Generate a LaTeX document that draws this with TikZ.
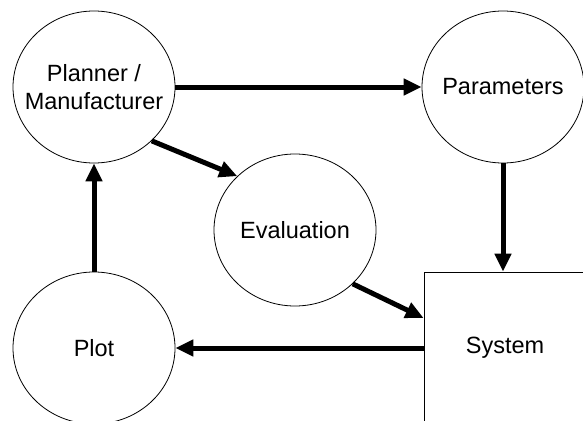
\documentclass[tikz,border=0pt]{standalone}
\usepackage{fontspec}
\setmainfont{Liberation Sans}
\usetikzlibrary{shapes.geometric,arrows.meta}
\tikzset{
  txt/.style={font=\fontsize{23.5}{28}\selectfont, align=center},
  bubble/.style={ellipse, draw, line width=0.8pt, minimum width=162pt, minimum height=152pt, inner sep=0pt, label={[txt]center:#1}},
  boxnode/.style={rectangle, draw, line width=0.8pt, minimum width=162pt, minimum height=152pt, inner sep=0pt, txt},
  flow/.style={line width=5pt, -{Triangle[length=18pt,width=16pt]}}
}
\begin{document}
\begin{tikzpicture}[x=1pt,y=-1pt]
\useasboundingbox (0,0) rectangle (583,420);
\clip (0,0) rectangle (583,420);
\fill[white] (0,0) rectangle (583,420);
\node[bubble={Planner /\\Manufacturer}] (P) at (94,87) {};
\node[bubble={Parameters}] (Par) at (503,87) {};
\node[bubble={Evaluation}] (E) at (295,230) {};
\node[bubble={Plot}] (Pl) at (94,348) {};
\node[boxnode] (S) at (505,348) {System};
\draw[flow] (P.east) -- (Par.west);
\draw[flow] (P.-43) -- (E.137);
\draw[flow] (E.-43) -- ([yshift=30pt]S.west);
\draw[flow] (Par.south) -- (Par.south |- S.north);
\draw[flow] (S.west) -- (Pl.east);
\draw[flow] (Pl.north) -- (P.south);
\end{tikzpicture}
\end{document}
